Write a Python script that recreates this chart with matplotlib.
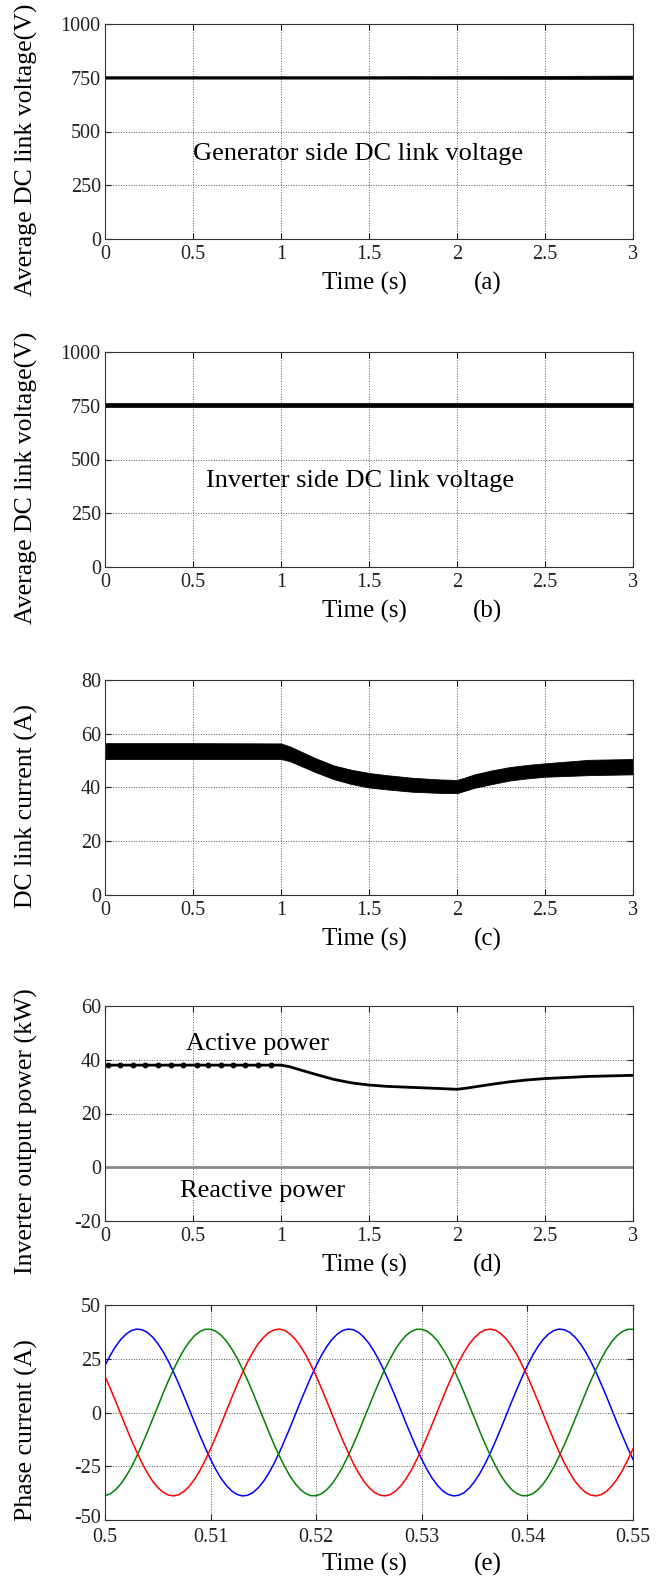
import numpy as np
import matplotlib
matplotlib.use('Agg')
import matplotlib.pyplot as plt
import matplotlib.transforms as mtransforms

plt.rcParams['font.family'] = ['Liberation Serif', 'DejaVu Serif']
plt.rcParams['axes.unicode_minus'] = False

# ---- (a) generator side dc link voltage, envelope of the ripple band
a_t = [0.0, 1.5, 2.6, 3.0]
a_lo = [746, 746, 745, 744]
a_hi = [757, 757, 759, 760]

# ---- (b) inverter side dc link voltage
b_t = [0.0, 1.5, 3.0]
b_lo = [742, 742, 742]
b_hi = [763, 763, 763]

# ---- (c) dc link current band
c_t = [0.0, 0.5, 1.0, 1.05, 1.1, 1.2, 1.3, 1.4, 1.5, 1.6, 1.75, 1.9, 2.0,
       2.05, 2.1, 2.2, 2.3, 2.4, 2.5, 2.75, 3.0]
c_hi = [56.5, 56.5, 56.4, 55.3, 53.8, 50.8, 48.2, 46.6, 45.4, 44.6, 43.6,
        43.0, 42.8, 43.8, 44.9, 46.4, 47.6, 48.4, 49.0, 50.3, 50.6]
c_lo = [50.6, 50.6, 50.6, 49.8, 48.4, 45.6, 43.1, 41.3, 40.0, 39.3, 38.4,
        38.0, 37.9, 38.9, 39.9, 41.3, 42.6, 43.4, 44.0, 44.6, 44.9]

# ---- (d) inverter output power
p_t = [0.0, 1.0, 1.05, 1.1, 1.2, 1.3, 1.4, 1.5, 1.6, 1.75, 1.9, 2.0,
       2.05, 2.1, 2.2, 2.3, 2.4, 2.5, 2.75, 3.0]
p_act = [38.0, 38.0, 37.4, 36.4, 34.5, 32.7, 31.4, 30.6, 30.1, 29.7, 29.3,
         29.0, 29.4, 29.9, 30.9, 31.8, 32.5, 33.0, 33.8, 34.2]
p_dot_t = [0.019, 0.087, 0.161, 0.230, 0.302, 0.377, 0.445, 0.520,
           0.588, 0.660, 0.729, 0.797, 0.872, 0.944]
q_t = [0.0, 3.0]
q_react = [0.0, 0.0]

# ---- (e) phase currents, 0.5 ms samples from 0.50 s to 0.55 s
ia = [21.8, 26.6, 30.7, 34.0, 36.5, 38.1, 38.8, 38.5, 37.3, 35.1,
      32.1, 28.3, 23.8, 18.7, 13.1, 7.3, 1.2, -4.9, -10.8, -16.5,
      -21.8, -26.6, -30.7, -34.0, -36.5, -38.1, -38.8, -38.5, -37.3, -35.1,
      -32.1, -28.3, -23.8, -18.7, -13.1, -7.3, -1.2, 4.9, 10.8, 16.5,
      21.8, 26.6, 30.7, 34.0, 36.5, 38.1, 38.8, 38.5, 37.3, 35.1,
      32.1, 28.3, 23.8, 18.7, 13.1, 7.3, 1.2, -4.9, -10.8, -16.5,
      -21.8, -26.6, -30.7, -34.0, -36.5, -38.1, -38.8, -38.5, -37.3, -35.1,
      -32.1, -28.3, -23.8, -18.7, -13.1, -7.3, -1.2, 4.9, 10.8, 16.5,
      21.8, 26.6, 30.7, 34.0, 36.5, 38.1, 38.8, 38.5, 37.3, 35.1,
      32.1, 28.3, 23.8, 18.7, 13.1, 7.3, 1.2, -4.9, -10.8, -16.5,
      -21.8]
ib = [-38.7, -37.8, -35.9, -33.2, -29.6, -25.4, -20.4, -15.0, -9.3, -3.2,
      2.8, 8.9, 14.7, 20.1, 25.0, 29.4, 33.0, 35.8, 37.7, 38.7,
      38.7, 37.8, 35.9, 33.2, 29.6, 25.4, 20.4, 15.0, 9.3, 3.2,
      -2.8, -8.9, -14.7, -20.1, -25.0, -29.4, -33.0, -35.8, -37.7, -38.7,
      -38.7, -37.8, -35.9, -33.2, -29.6, -25.4, -20.4, -15.0, -9.3, -3.2,
      2.8, 8.9, 14.7, 20.1, 25.0, 29.4, 33.0, 35.8, 37.7, 38.7,
      38.7, 37.8, 35.9, 33.2, 29.6, 25.4, 20.4, 15.0, 9.3, 3.2,
      -2.8, -8.9, -14.7, -20.1, -25.0, -29.4, -33.0, -35.8, -37.7, -38.7,
      -38.7, -37.8, -35.9, -33.2, -29.6, -25.4, -20.4, -15.0, -9.3, -3.2,
      2.8, 8.9, 14.7, 20.1, 25.0, 29.4, 33.0, 35.8, 37.7, 38.7,
      38.7]
ic = [16.9, 11.2, 5.3, -0.8, -6.9, -12.8, -18.3, -23.5, -28.0, -31.9,
      -34.9, -37.1, -38.4, -38.8, -38.2, -36.6, -34.2, -30.9, -26.9, -22.1,
      -16.9, -11.2, -5.3, 0.8, 6.9, 12.8, 18.3, 23.5, 28.0, 31.9,
      34.9, 37.1, 38.4, 38.8, 38.2, 36.6, 34.2, 30.9, 26.9, 22.1,
      16.9, 11.2, 5.3, -0.8, -6.9, -12.8, -18.3, -23.5, -28.0, -31.9,
      -34.9, -37.1, -38.4, -38.8, -38.2, -36.6, -34.2, -30.9, -26.9, -22.1,
      -16.9, -11.2, -5.3, 0.8, 6.9, 12.8, 18.3, 23.5, 28.0, 31.9,
      34.9, 37.1, 38.4, 38.8, 38.2, 36.6, 34.2, 30.9, 26.9, 22.1,
      16.9, 11.2, 5.3, -0.8, -6.9, -12.8, -18.3, -23.5, -28.0, -31.9,
      -34.9, -37.1, -38.4, -38.8, -38.2, -36.6, -34.2, -30.9, -26.9, -22.1,
      -16.9]
t_e = np.linspace(0.5, 0.55, len(ia))

time_ticks = [0, 0.5, 1, 1.5, 2, 2.5, 3]
time_labels = ['0', '0.5', '1', '1.5', '2', '2.5', '3']
e_ticks = [0.5, 0.51, 0.52, 0.53, 0.54, 0.55]
e_labels = ['0.5', '0.51', '0.52', '0.53', '0.54', '0.55']

fig = plt.figure(figsize=(6.57, 15.81), dpi=100)

LEFT = 105 / 657
WIDTH = 528 / 657
HEIGHT = 215 / 1581


def make_ax(bottom_px):
    ax = fig.add_axes([LEFT, 1 - bottom_px / 1581, WIDTH, HEIGHT])
    ax.grid(True, linestyle=':', color='#555555', linewidth=0.7)
    ax.set_axisbelow(True)
    for s in ax.spines.values():
        s.set_color('#333333')
        s.set_linewidth(0.8)
    ax.tick_params(direction='in', top=True, right=True, length=4,
                   width=0.8, labelsize=14.5, colors='#222222')
    ax.tick_params(axis='x', pad=4)
    ax.tick_params(axis='y', pad=3)
    return ax


def labels(ax, ylab, tag):
    ax.set_ylabel(ylab, fontsize=18.5, va='center')
    ax.yaxis.set_label_coords(-0.148, 0.416)
    ax.text(0.492, -0.207, 'Time (s)', transform=ax.transAxes,
            ha='center', va='center', fontsize=18)
    ax.text(0.725, -0.207, tag, transform=ax.transAxes,
            ha='center', va='center', fontsize=18)


def time_axis(ax):
    ax.set_xlim(0, 3)
    ax.set_xticks(time_ticks)
    ax.set_xticklabels(time_labels)


# (a)
ax = make_ax(239)
ax.fill_between(a_t, a_lo, a_hi, color='black', linewidth=0.5)
time_axis(ax)
ax.set_ylim(0, 1000)
ax.set_yticks([0, 250, 500, 750, 1000])
ax.text(1.4375, 395, 'Generator side DC link voltage', ha='center',
        va='center', fontsize=19)
labels(ax, 'Average DC link voltage(V)', '(a)')

# (b)
ax = make_ax(567)
ax.fill_between(b_t, b_lo, b_hi, color='black', linewidth=0.5)
time_axis(ax)
ax.set_ylim(0, 1000)
ax.set_yticks([0, 250, 500, 750, 1000])
ax.text(1.45, 400, 'Inverter side DC link voltage', ha='center',
        va='center', fontsize=19)
labels(ax, 'Average DC link voltage(V)', '(b)')

# (c)
ax = make_ax(895)
ax.fill_between(c_t, c_lo, c_hi, color='black', linewidth=0.6)
time_axis(ax)
ax.set_ylim(0, 80)
ax.set_yticks([0, 20, 40, 60, 80])
labels(ax, 'DC link current (A)', '(c)')

# (d)
ax = make_ax(1221)
ax.plot(q_t, q_react, color='#8a8a8a', linewidth=2.0)
ax.plot(p_t, p_act, color='black', linewidth=2.0)
ax.plot(p_dot_t, np.interp(p_dot_t, p_t, p_act), 'o', color='black',
        markersize=3.2)
time_axis(ax)
ax.set_ylim(-20, 60)
ax.set_yticks([-20, 0, 20, 40, 60])
ax.text(0.869, 45.9, 'Active power', ha='center', va='center', fontsize=19)
ax.text(0.898, -8.9, 'Reactive power', ha='center', va='center', fontsize=19)
labels(ax, 'Inverter output power (kW)', '(d)')

# (e)
ax = make_ax(1520)
ax.plot(t_e, ia, color='blue', linewidth=1.1)
ax.plot(t_e, ib, color='green', linewidth=1.1)
ax.plot(t_e, ic, color='red', linewidth=1.1)
ax.set_xlim(0.5, 0.55)
ax.set_xticks(e_ticks)
ax.set_xticklabels(e_labels)
ax.set_ylim(-50, 50)
ax.set_yticks([-50, -25, 0, 25, 50])
ax.tick_params(axis='x', pad=5.5)
labels(ax, 'Phase current (A)', '(e)')

# lift the bottom y label a little so it clears the first time label
fig.canvas.draw()
lift = mtransforms.ScaledTranslation(0, 3 / 72, fig.dpi_scale_trans)
bottom_lab = ax.get_yticklabels()[0]
bottom_lab.set_transform(bottom_lab.get_transform() + lift)

fig.savefig('out.png', dpi=100)
